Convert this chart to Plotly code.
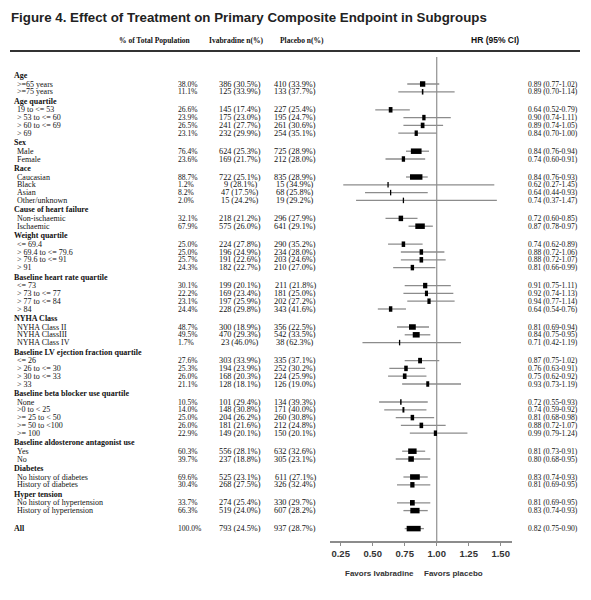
import plotly.graph_objects as go

# ---------------- data ----------------
groups = ["Age", "Age quartile", "Sex", "Race", "Cause of heart failure", "Weight quartile",
          "Baseline heart rate quartile", "NYHA Class", "Baseline LV ejection fraction quartile",
          "Baseline beta blocker use quartile", "Baseline aldosterone antagonist use",
          "Diabetes", "Hyper tension"]
group_sizes = [2, 4, 2, 4, 2, 4, 4, 3, 4, 5, 2, 2, 2]

subgroups = [">=65 years", ">=75 years",
             "19 to <= 53", "> 53 to <= 60", "> 60 to <= 69", "> 69",
             "Male", "Female",
             "Caucasian", "Black", "Asian", "Other/unknown",
             "Non-ischaemic", "Ischaemic",
             "<= 69.4", "> 69.4 to <= 79.6", "> 79.6 to <= 91", "> 91",
             "<= 73", "> 73 to <= 77", "> 77 to <= 84", "> 84",
             "NYHA Class II", "NYHA ClassIII", "NYHA Class IV",
             "<= 26", "> 26 to <= 30", "> 30 to <= 33", "> 33",
             "None", ">0 to < 25", ">= 25 to < 50", ">= 50 to <100", ">= 100",
             "Yes", "No",
             "No history of diabetes", "History of diabetes",
             "No history of hypertension", "History of hypertension",
             "All"]

pct_total = [38.0, 11.1, 26.6, 23.9, 26.5, 23.1, 76.4, 23.6, 88.7, 1.2, 8.2, 2.0, 32.1, 67.9,
             25.0, 25.0, 25.7, 24.3, 30.1, 22.2, 23.1, 24.4, 48.7, 49.5, 1.7, 27.6, 25.3, 26.0, 21.1,
             10.5, 14.0, 25.0, 26.0, 22.9, 60.3, 39.7, 69.6, 30.4, 33.7, 66.3, 100.0]

ivab_n = [386, 125, 145, 175, 241, 232, 624, 169, 722, 9, 47, 15, 218, 575, 224, 196, 191, 182,
          199, 169, 197, 228, 300, 470, 23, 303, 194, 168, 128, 101, 148, 204, 181, 149, 556, 237,
          525, 268, 274, 519, 793]
ivab_pct = [30.5, 33.9, 17.4, 23.0, 27.7, 29.9, 25.3, 21.7, 25.1, 28.1, 17.5, 24.2, 21.2, 26.0,
            27.8, 24.9, 22.6, 22.7, 20.1, 23.4, 25.9, 29.8, 18.9, 29.3, 46.0, 33.9, 23.9, 20.3, 18.1,
            29.4, 30.8, 26.2, 21.6, 20.1, 28.1, 18.8, 23.1, 27.5, 25.4, 24.0, 24.5]

placebo_n = [410, 133, 227, 195, 261, 254, 725, 212, 835, 15, 68, 19, 296, 641, 290, 234, 203, 210,
             211, 181, 202, 343, 356, 542, 38, 335, 252, 224, 126, 134, 171, 260, 212, 150, 632, 305,
             611, 326, 330, 607, 937]
placebo_pct = [33.9, 37.7, 25.4, 24.7, 30.6, 35.1, 28.9, 28.0, 28.9, 34.9, 25.8, 29.2, 27.9, 29.1,
               35.2, 28.0, 24.6, 27.0, 21.8, 25.0, 27.2, 41.6, 22.5, 33.5, 62.3, 37.1, 30.2, 25.9, 19.0,
               39.3, 40.0, 30.8, 24.8, 20.1, 32.6, 23.1, 27.1, 32.4, 29.7, 28.2, 28.7]

hr = [0.89, 0.89, 0.64, 0.90, 0.89, 0.84, 0.84, 0.74, 0.84, 0.62, 0.64, 0.74, 0.72, 0.87,
      0.74, 0.88, 0.88, 0.81, 0.91, 0.92, 0.94, 0.64, 0.81, 0.84, 0.71, 0.87, 0.76, 0.75, 0.93,
      0.72, 0.74, 0.81, 0.88, 0.99, 0.81, 0.80, 0.83, 0.81, 0.81, 0.83, 0.82]
hr_lo = [0.77, 0.70, 0.52, 0.74, 0.74, 0.70, 0.76, 0.60, 0.76, 0.27, 0.44, 0.37, 0.60, 0.78,
         0.62, 0.72, 0.72, 0.66, 0.75, 0.74, 0.77, 0.54, 0.69, 0.75, 0.42, 0.75, 0.63, 0.62, 0.73,
         0.55, 0.59, 0.68, 0.72, 0.79, 0.73, 0.68, 0.74, 0.69, 0.69, 0.74, 0.75]
hr_hi = [1.02, 1.14, 0.79, 1.11, 1.05, 1.00, 0.94, 0.91, 0.93, 1.45, 0.93, 1.47, 0.85, 0.97,
         0.89, 1.06, 1.07, 0.99, 1.11, 1.13, 1.14, 0.76, 0.94, 0.95, 1.19, 1.02, 0.91, 0.92, 1.19,
         0.93, 0.92, 0.98, 1.07, 1.24, 0.91, 0.95, 0.93, 0.95, 0.95, 0.93, 0.90]

tick_vals = [0.25, 0.50, 0.75, 1.00, 1.25, 1.50]
tick_text = ["0.25", "0.50", "0.75", "1.00", "1.25", "1.50"]

# ---------------- layout helpers ----------------
PAGE_W, PAGE_H = 591, 600
OFF = 8                                   # default page body margin
W, H = PAGE_W - OFF, PAGE_H - OFF         # figure size so that it fills the window
X0_PX, PX_PER_UNIT = 308.7, 128.0         # page pixel of HR=0 and scale
AX_LO_PX, AX_HI_PX = 330, 512             # axis line extent (page pixels)
AX_Y = 542                                # axis line y (page pixels)


def px(xp):
    """page pixel x -> paper fraction"""
    return (xp - OFF) / W


def esc(s):
    return s.replace("&", "&amp;").replace("<", "&lt;").replace(">", "&gt;")


# row positions (y axis units == page pixels)
header_y = []
row_y = []
y = 75.5
for gi, n in enumerate(group_sizes):
    if gi > 0:
        y += 9.5
    header_y.append(y)
    y += 8.5
    for k in range(n):
        if k > 0:
            y += 7.8
        row_y.append(y)
row_y.append(y + 18)   # "All"

SERIF = "Liberation Serif, Times New Roman, serif"
SANS = "Liberation Sans, Arial, sans-serif"
TXT = "#111111"

fig = go.Figure()

# CI lines
ci_x, ci_y = [], []
for lo, hi_, yy in zip(hr_lo, hr_hi, row_y):
    ci_x += [lo, hi_, None]
    ci_y += [yy, yy, None]
fig.add_trace(go.Scatter(x=ci_x, y=ci_y, mode="lines", xaxis="x2", yaxis="y",
                         line=dict(color="#8c8c8c", width=1.3), hoverinfo="skip",
                         showlegend=False))

# boxes (size proportional to % of population)
bx, by = [], []
for h, p, yy in zip(hr, pct_total, row_y):
    half = max(1.3, 0.14 * p) / 2 / PX_PER_UNIT
    bx += [h - half, h + half, None]
    by += [yy, yy, None]
fig.add_trace(go.Scatter(x=bx, y=by, mode="lines", xaxis="x2", yaxis="y",
                         line=dict(color="black", width=5.5), hoverinfo="skip",
                         showlegend=False))

ann = []


def add_text(txt, xpx, ypx, anchor="left", font=SERIF, size=8, bold=False, color=TXT):
    ann.append(dict(text=("<b>%s</b>" % txt) if bold else txt, x=px(xpx), xref="paper",
                    y=ypx, yref="y", xanchor=anchor, yanchor="middle", showarrow=False,
                    borderpad=0, font=dict(family=font, size=size, color=color)))


# title and column headers
add_text("Figure 4. Effect of Treatment on Primary Composite Endpoint in Subgroups", 10, 17,
         font=SANS, size=13.3, bold=True, color="#222")
add_text("% of Total Population", 154, 40, anchor="center", size=7.5, bold=True)
add_text("Ivabradine n(%)", 236, 40, anchor="center", size=7.5, bold=True)
add_text("Placebo n(%)", 302, 40, anchor="center", size=7.5, bold=True)
add_text("HR (95% CI)", 495, 40, anchor="center", font=SANS, size=8.5, bold=True)

# group headers
for g, yy in zip(groups, header_y):
    add_text(esc(g), 13, yy, size=8, bold=True)

# rows
for i, yy in enumerate(row_y):
    is_all = subgroups[i] == "All"
    add_text(esc(subgroups[i]), 13 if is_all else 16, yy, size=8, bold=is_all)
    add_text("%.1f%%" % pct_total[i], 177, yy, size=7.6)
    add_text("%d (%.1f%%)" % (ivab_n[i], ivab_pct[i]), 240, yy, anchor="center", size=8.3)
    add_text("%d (%.1f%%)" % (placebo_n[i], placebo_pct[i]), 295, yy, anchor="center", size=8.3)
    add_text("%.2f (%.2f-%.2f)" % (hr[i], hr_lo[i], hr_hi[i]), 527, yy, size=7.6)

# favours labels
add_text("Favors Ivabradine", 379, 573, anchor="center", font=SANS, size=8, bold=True, color="#333")
add_text("Favors placebo", 453, 573, anchor="center", font=SANS, size=8, bold=True, color="#333")

shapes = [
    # header rule
    dict(type="line", xref="paper", yref="y", x0=px(10), x1=px(580), y0=51, y1=51,
         line=dict(color="#333", width=2)),
    # reference line at HR = 1
    dict(type="line", xref="x2", yref="y", x0=1, x1=1, y0=57, y1=AX_Y,
         line=dict(color="#999", width=1.3), layer="below"),
]

ax_lo = (AX_LO_PX - X0_PX) / PX_PER_UNIT
ax_hi = (AX_HI_PX - X0_PX) / PX_PER_UNIT

fig.update_layout(
    width=W, height=H,
    margin=dict(l=0, r=0, t=0, b=0),
    paper_bgcolor="white", plot_bgcolor="white",
    showlegend=False,
    annotations=ann,
    shapes=shapes,
    xaxis=dict(visible=False, range=[0, 1], domain=[0, 1]),
    xaxis2=dict(domain=[px(AX_LO_PX), px(AX_HI_PX)], range=[ax_lo, ax_hi],
                anchor="free", position=1 - (AX_Y - OFF) / H,
                showline=True, linecolor="#8c8c8c", linewidth=1.5,
                showgrid=False, zeroline=False,
                tickvals=tick_vals, ticktext=["<b>%s</b>" % t for t in tick_text],
                ticks="outside", ticklen=3, tickcolor="#8c8c8c",
                tickfont=dict(family=SANS, size=9.5, color="#333")),
    yaxis=dict(visible=False, range=[PAGE_H, OFF], domain=[0, 1]),
)

fig.write_html("out.html")
